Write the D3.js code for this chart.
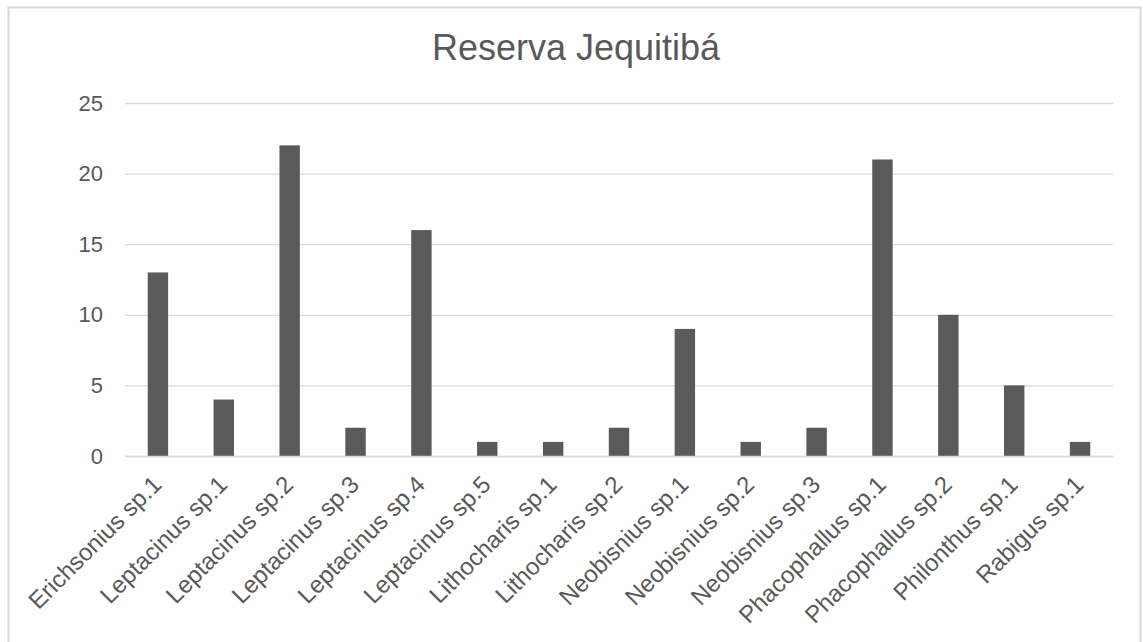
<!DOCTYPE html>
<html>
<head>
<meta charset="utf-8">
<script src="https://cdn.jsdelivr.net/npm/d3@7"></script>
<style>
  body { margin: 0; background: #fff; }
  svg text { font-family: "Liberation Sans", Arial, sans-serif; }
</style>
</head>
<body>
<div id="graph"></div>
<script>
// Data
const categories = ['Erichsonius sp.1', 'Leptacinus sp.1', 'Leptacinus sp.2', 'Leptacinus sp.3',
  'Leptacinus sp.4', 'Leptacinus sp.5', 'Lithocharis sp.1', 'Lithocharis sp.2', 'Neobisnius sp.1',
  'Neobisnius sp.2', 'Neobisnius sp.3', 'Phacophallus sp.1', 'Phacophallus sp.2', 'Philonthus sp.1',
  'Rabigus sp.1']
const counts = [13, 4, 22, 2, 16, 1, 1, 2, 9, 1, 2, 21, 10, 5, 1]
const yTicks = [0, 5, 10, 15, 20, 25]
const title = 'Reserva Jequitibá'

const total_width = 1143
const total_height = 642
const margins = { top: 103, left: 125, right: 30, bottom: 186 }
const width = total_width - margins.left - margins.right
const height = total_height - margins.top - margins.bottom

const svg = d3.select('#graph').append('svg')
  .attr('width', total_width)
  .attr('height', total_height)

// chart border (bottom edge falls outside the picture)
svg.append('rect')
  .attr('x', 8.5).attr('y', 7.5)
  .attr('width', 1132).attr('height', 645)
  .attr('fill', '#fff')
  .attr('stroke', '#d9d9d9')
  .attr('stroke-width', 2)

svg.append('text')
  .attr('x', 576)
  .attr('y', 60)
  .attr('text-anchor', 'middle')
  .style('font-size', '36px')
  .attr('fill', '#595959')
  .text(title)

const g = svg.append('g')
  .attr('transform', `translate(${margins.left}, ${margins.top})`)

const x = d3.scaleBand().domain(categories).range([0, width]).paddingInner(0.69).paddingOuter(0.345)
const y = d3.scaleLinear().domain([0, 25]).range([height, 0])

// gridlines + y labels
const yAxis = g.append('g')
  .call(d3.axisLeft(y).tickValues(yTicks).tickSize(-width).tickPadding(22))
yAxis.select('.domain').remove()
yAxis.selectAll('.tick line').attr('stroke', '#d9d9d9').attr('stroke-width', 1.3)
yAxis.selectAll('.tick text')
  .attr('fill', '#595959')
  .style('font-size', '22px')

g.selectAll('.bar')
  .data(counts)
  .enter()
  .append('rect')
  .attr('class', 'bar')
  .attr('x', (d, i) => x(categories[i]))
  .attr('y', d => y(d))
  .attr('width', x.bandwidth())
  .attr('height', d => height - y(d))
  .attr('fill', '#5a5a5a')

// x axis with rotated labels
const xAxis = g.append('g')
  .attr('transform', `translate(0, ${height})`)
  .call(d3.axisBottom(x).tickSize(0).tickPadding(0))
xAxis.select('.domain').attr('stroke', '#d9d9d9').attr('stroke-width', 1.3)
xAxis.selectAll('.tick text')
  .attr('fill', '#595959')
  .style('font-size', '24px')
  .attr('text-anchor', 'end')
  .attr('dy', 0)
  .attr('transform', 'translate(5, 30) rotate(-45)')
</script>
</body>
</html>
